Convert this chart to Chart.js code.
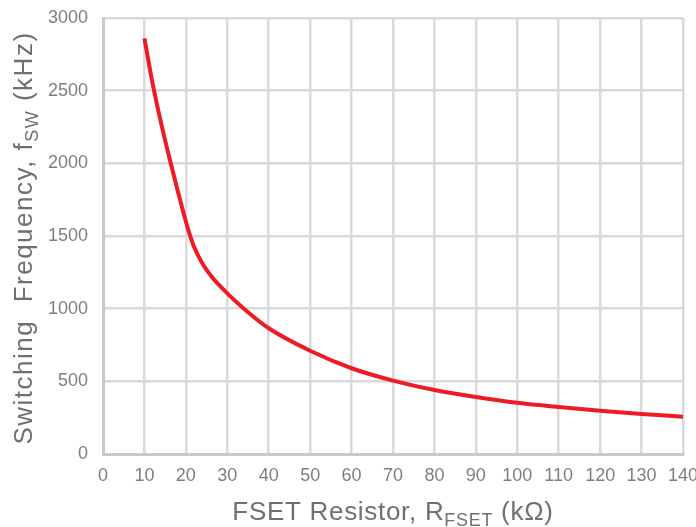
<!DOCTYPE html>
<html>
<head>
<meta charset="utf-8">
<script src="https://cdn.jsdelivr.net/npm/chart.js@4/dist/chart.umd.min.js"></script>
<style>
  html, body { margin: 0; padding: 0; background: #fff; overflow: hidden; }
  #wrap { width: 696px; height: 527px; position: relative; }
</style>
</head>
<body>
<div id="wrap"><canvas id="fsw-chart"></canvas></div>
<script>
// valores
var rfsetValues = [10, 12, 14, 16, 18, 20, 21, 22, 24, 26, 28, 30, 35, 40, 50, 60, 70, 80, 90, 100, 110, 120, 130, 140];
var fswValues = [2860, 2545, 2280, 2040, 1815, 1600, 1505, 1425, 1310, 1228, 1163, 1105, 975, 865, 710, 590, 505, 440, 392, 352, 323, 298, 276, 256];
var xTicks = [0, 10, 20, 30, 40, 50, 60, 70, 80, 90, 100, 110, 120, 130, 140];
var yTicks = [0, 500, 1000, 1500, 2000, 2500, 3000];

var fontFamily = '"Liberation Sans", Arial, sans-serif';

// mide las partes del texto (normal y subindice)
function measureParts(ctx, parts, size, subSize, spacing) {
    var total = 0;
    ctx.letterSpacing = spacing + 'px';
    parts.forEach(function (p) {
        ctx.font = (p.sub ? subSize : size) + 'px ' + fontFamily;
        p.w = ctx.measureText(p.t).width;
        total += p.w;
    });
    return total;
}

function renderParts(ctx, parts, x, y, size, subSize, subShift, spacing) {
    ctx.letterSpacing = spacing + 'px';
    parts.forEach(function (p) {
        ctx.font = (p.sub ? subSize : size) + 'px ' + fontFamily;
        ctx.fillText(p.t, x, p.sub ? y + subShift : y);
        x += p.w;
    });
}

var titlesPlugin = {
    id: 'titles',
    afterDraw: function (chart) {
        var ctx = chart.ctx;
        ctx.save();
        ctx.fillStyle = '#707070';
        ctx.textBaseline = 'alphabetic';
        ctx.textAlign = 'left';

        // titulo eje X
        var xParts = [{ t: 'FSET Resistor, R' }, { t: 'FSET', sub: true }, { t: ' (k\u03A9)' }];
        var xw = measureParts(ctx, xParts, 26, 18, 0.7);
        renderParts(ctx, xParts, 393 - xw / 2, 520, 26, 18, 6, 0.7);

        // titulo eje Y
        var yParts = [{ t: 'Switching  Frequency, f' }, { t: 'SW', sub: true }, { t: ' (kHz)' }];
        var yw = measureParts(ctx, yParts, 26, 18, 1.5);
        ctx.translate(32, 238);
        ctx.rotate(-Math.PI / 2);
        renderParts(ctx, yParts, -yw / 2, 0, 26, 18, 6, 1.5);
        ctx.restore();
    }
};

var fswChart = new Chart(document.getElementById('fsw-chart'), {
    type: 'line',
    data: {
        datasets: [
            {
                label: 'fsw',
                data: rfsetValues.map(function (r, i) { return { x: r, y: fswValues[i] }; }),
                borderColor: '#ed1c24',
                borderWidth: 4,
                pointRadius: 0,
                fill: false,
                cubicInterpolationMode: 'monotone'
            }
        ]
    },
    options: {
        responsive: true,
        maintainAspectRatio: false,
        animation: false,
        layout: { padding: { left: 0, right: 13, top: 18, bottom: 0 } },
        plugins: {
            legend: { display: false },
            tooltip: { enabled: false }
        },
        scales: {
            x: {
                type: 'linear',
                min: 0,
                max: 140,
                afterBuildTicks: function (scale) {
                    scale.ticks = xTicks.map(function (v) { return { value: v }; });
                },
                afterFit: function (scale) {
                    scale.height = 73;
                    scale.paddingLeft = 0;
                    scale.paddingRight = 0;
                },
                grid: { color: '#d9d9d9', lineWidth: 2.5, drawTicks: false },
                border: { color: '#c9c9c9', width: 3 },
                ticks: {
                    color: '#7f7f7f',
                    padding: 11,
                    maxRotation: 0,
                    autoSkip: false,
                    font: { family: fontFamily, size: 18 },
                    callback: function (v) { return String(v); }
                }
            },
            y: {
                min: 0,
                max: 3000,
                afterBuildTicks: function (scale) {
                    scale.ticks = yTicks.map(function (v) { return { value: v }; });
                },
                afterFit: function (scale) {
                    scale.width = 103;
                    scale.paddingTop = 0;
                    scale.paddingBottom = 0;
                },
                grid: { color: '#d9d9d9', lineWidth: 2.5, drawTicks: false },
                border: { color: '#c9c9c9', width: 3 },
                ticks: {
                    color: '#7f7f7f',
                    padding: 15,
                    font: { family: fontFamily, size: 18 },
                    callback: function (v) { return String(v); }
                }
            }
        }
    },
    plugins: [titlesPlugin]
});
</script>
</body>
</html>
